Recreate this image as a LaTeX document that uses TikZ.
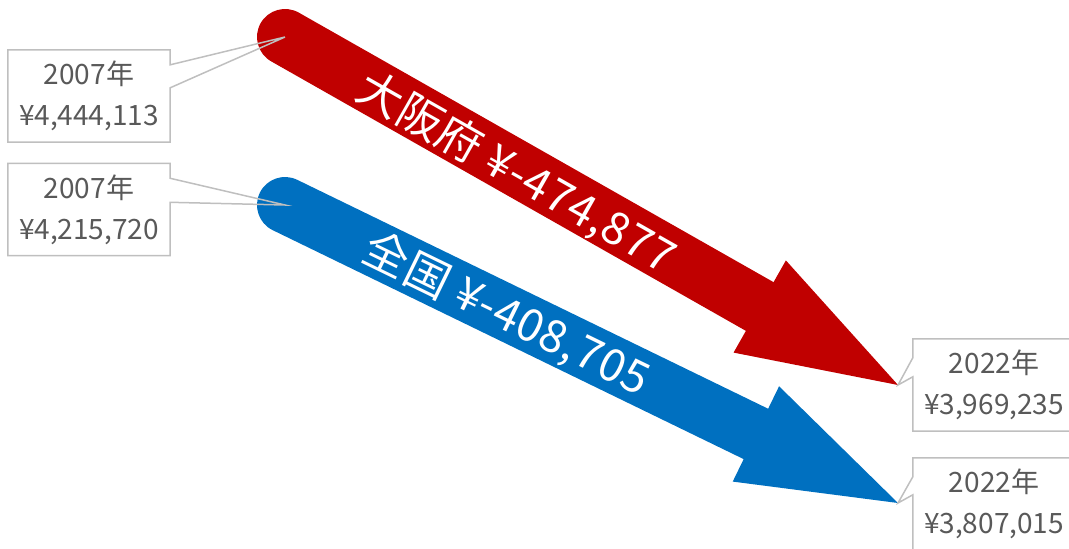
\documentclass[tikz,border=0pt]{standalone}
\usepackage{fontspec}
\setmainfont{Noto Sans CJK JP}
\usetikzlibrary{calc}
\definecolor{osaka}{HTML}{C00000}
\definecolor{zenkoku}{HTML}{0070C0}
\definecolor{callline}{HTML}{BFBFBF}
\definecolor{calltext}{HTML}{595959}
\begin{document}
\begin{tikzpicture}[x=1pt,y=-1pt,
  shaft/.style={line width=56pt, line cap=round},
  callout/.style={draw=callline, line width=1.5pt, line join=miter},
  lbl/.style={text=calltext, align=center, font=\fontsize{28}{41}\selectfont, inner sep=0pt, minimum width=162pt, minimum height=92pt},
  arrowtext/.style={text=white, font=\fontsize{45}{45}\selectfont\addfontfeatures{LetterSpace=2}, inner sep=0pt}]
\useasboundingbox (0,0) rectangle (1069,549);
\clip (0,0) rectangle (1069,549);
% red arrow
\coordinate (rT) at (285,37);
\coordinate (rTip) at (898,385);
\coordinate (rB) at ($(rTip)!159pt!(rT)$);
\coordinate (rL) at ($(rB)!53pt!90:(rTip)$);
\coordinate (rR) at ($(rB)!53pt!-90:(rTip)$);
\draw[shaft, osaka] (rT) -- (rB);
\fill[osaka] (rL) -- (rTip) -- (rR) -- cycle;
% blue arrow
\coordinate (bT) at (285,205);
\coordinate (bTip) at (898,503);
\coordinate (bB) at ($(bTip)!158pt!(bT)$);
\coordinate (bL) at ($(bB)!53pt!90:(bTip)$);
\coordinate (bR) at ($(bB)!53pt!-90:(bTip)$);
\draw[shaft, zenkoku] (bT) -- (bB);
\fill[zenkoku] (bL) -- (bTip) -- (bR) -- cycle;
% arrow texts
\node[arrowtext, rotate=-29.58] (rText) at ($(rT)!268pt!(rTip)+(-2,4)$) {大阪府 ¥-474,877};
\node[arrowtext, rotate=-25.93] (bText) at ($(bT)!247pt!(bTip)+(-1,2)$) {全国 ¥-408,705};
% callouts
\node[lbl] (c1) at (89,96) {2007年\\¥4,444,113};
\draw[callout] (c1.north west) -- (c1.north east) -- ($(c1.north east)+(0,15)$) -- (rT) -- ($(c1.north east)+(0,38)$) -- (c1.south east) -- (c1.south west) -- cycle;
\node[lbl] (c2) at (89,209.5) {2007年\\¥4,215,720};
\draw[callout] (c2.north west) -- (c2.north east) -- ($(c2.north east)+(0,15)$) -- (bT) -- ($(c2.north east)+(0,39)$) -- (c2.south east) -- (c2.south west) -- cycle;
\node[lbl] (c3) at (994,385) {2022年\\¥3,969,235};
\draw[callout] (c3.north east) -- (c3.north west) -- ($(c3.north west)+(0,19)$) -- (rTip) -- ($(c3.north west)+(0,38)$) -- (c3.south west) -- (c3.south east) -- cycle;
\node[lbl] (c4) at (994,504) {2022年\\¥3,807,015};
\draw[callout] (c4.north east) -- (c4.north west) -- ($(c4.north west)+(0,19)$) -- (bTip) -- ($(c4.north west)+(0,37)$) -- (c4.south west) -- (c4.south east) -- cycle;
\end{tikzpicture}
\end{document}
